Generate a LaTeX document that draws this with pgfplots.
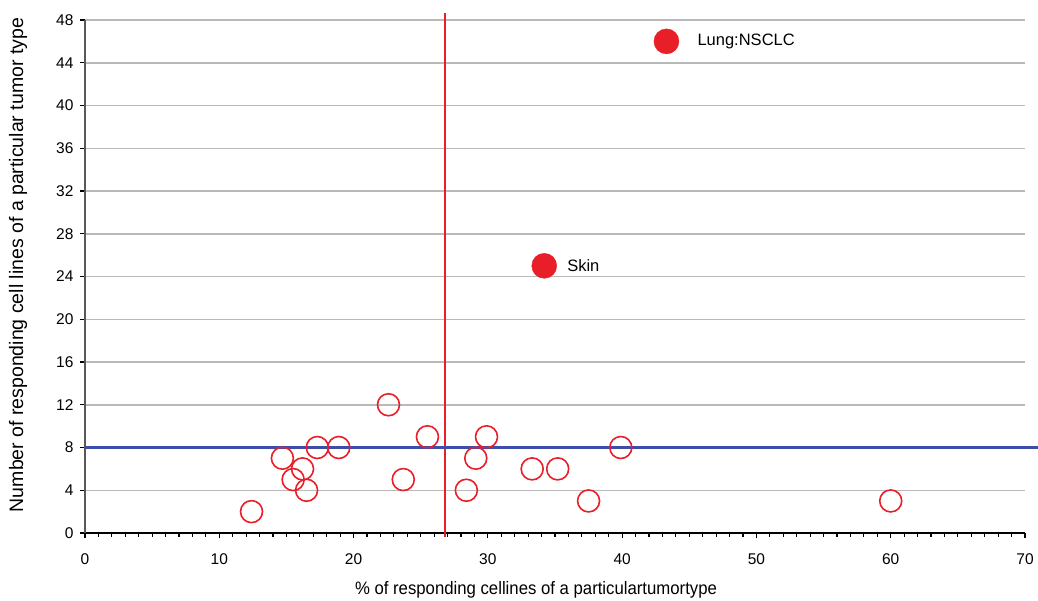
\documentclass[border=0pt]{standalone}
\usepackage{pgfplots}
\pgfplotsset{compat=1.18}
\usepackage{fontspec}
\setmainfont{Liberation Sans}
\definecolor{ptred}{HTML}{E81E28}
\definecolor{lnblue}{HTML}{3F4DAA}
\begin{document}
\begin{tikzpicture}[x=1pt,y=1pt]
\useasboundingbox (0,0) rectangle (1038,600);
\begin{axis}[
  at={(85pt,67pt)}, anchor=south west,
  scale only axis, width=940pt, height=513pt,
  xmin=0, xmax=70, ymin=0, ymax=48,
  xtick={0,10,...,70}, ytick={0,4,...,48},
  minor x tick num=9,
  axis x line=bottom, axis y line=left,
  axis line style={-, line width=1.8pt, black!65},
  x axis line style={black, line width=2pt},
  tick style={black, line width=1.2pt},
  xtick align=outside, ytick align=outside,
  major tick length=5pt, minor tick length=3.5pt,
  ymajorgrids, grid style={gray!55, line width=1.5pt},
  tick label style={font=\fontsize{15.5}{17}\selectfont},
  /pgf/number format/assume math mode=true,
  xticklabel style={yshift=-12pt},
  yticklabel style={xshift=-3pt},
  clip=false,
]
% open circles
\addplot[only marks, mark=o, mark size=11pt, ptred, line width=1.6pt] coordinates {
 (12.4,2) (14.7,7) (15.5,5) (16.2,6) (16.5,4) (17.3,8) (18.9,8)
 (22.6,12) (23.7,5) (25.5,9) (28.4,4) (29.1,7) (29.9,9)
 (33.3,6) (35.2,6) (37.5,3) (39.9,8) (60,3)
};
% filled circles
\addplot[only marks, mark=*, mark size=12.5pt, ptred, mark options={draw=ptred, fill=ptred}] coordinates {
 (43.3,46) (34.2,25)
};
% reference lines
\addplot[ptred, line width=2pt, no marks] coordinates {(26.8,-0.4) (26.8,48.7)};
\addplot[lnblue, line width=3pt, no marks] coordinates {(0,8) (71,8)};
\node[anchor=west, inner sep=0pt, font=\fontsize{16.5}{18}\selectfont] at (axis cs:45.6,46) {Lung:NSCLC};
\node[anchor=west, inner sep=0pt, font=\fontsize{16.5}{18}\selectfont] at (axis cs:35.9,25) {Skin};
\end{axis}
\node[font=\fontsize{18}{20}\selectfont, xscale=0.93] at (536,10) {\% of responding cellines of a particulartumortype};
\node[rotate=90, font=\fontsize{19.5}{21}\selectfont] at (18,335) {Number of responding cell lines of a particular tumor type};
\end{tikzpicture}
\end{document}
